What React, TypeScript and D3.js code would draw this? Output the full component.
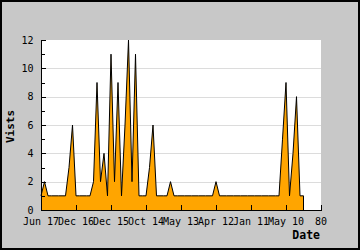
import React from "react";
import * as d3 from "d3";

const visits: number[] = [
  1, 2, 1, 1, 1, 1, 1, 1, 3, 6,
  1, 1, 1, 1, 1, 2, 9, 2, 4, 1,
  11, 2, 9, 1, 6, 12, 2, 11, 1, 1,
  1, 3, 6, 1, 1, 1, 1, 2, 1, 1,
  1, 1, 1, 1, 1, 1, 1, 1, 1, 1,
  2, 1, 1, 1, 1, 1, 1, 1, 1, 1,
  1, 1, 1, 1, 1, 1, 1, 1, 1, 5,
  9, 1, 4, 8, 1, 1,
];
const xTickValues: number[] = [0, 10, 20, 30, 40, 50, 60, 70, 80];
const xTickLabels: string[] = ["Jun 17", "Dec 16", "Dec 15", "Oct 14", "May 13", "Apr 12", "Jan 11", "May 10", "80"];
const yMajorTicks: number[] = [0, 2, 4, 6, 8, 10, 12];
const yMinorTicks: number[] = [1, 3, 5, 7, 9, 11];
const yGrid: number[] = [2, 4, 6, 8, 10];

const W = 360, H = 250;
const PL = 41, PR = 321, PT = 40, PB = 210;
const mono = "'DejaVu Sans Mono', monospace";

export default function App() {
  const x = d3.scaleLinear().domain([0, 80]).range([PL, PR]);
  const y = d3.scaleLinear().domain([0, 12]).range([PB, PT]);
  const pts = visits.map((v, i) => [i, v] as [number, number]);
  const area = d3.area<[number, number]>()
    .x(d => x(d[0]))
    .y0(y(0))
    .y1(d => y(d[1]));
  const line = d3.line<[number, number]>().x(d => x(d[0])).y(d => y(d[1]));
  const last = visits.length - 1;
  const outline = line(pts) + `L${x(last)},${y(0)}`;

  return (
    <svg width={W} height={H} style={{ position: "absolute", left: 0, top: 0 }}>
      <rect x={0} y={0} width={W} height={H} fill="#c8c8c8" />
      <rect x={1} y={1} width={W - 2} height={H - 2} fill="none" stroke="#000" strokeWidth={2} />
      <rect x={PL} y={PT} width={PR - PL} height={PB - PT} fill="#fff" />
      {yGrid.map(v => (
        <line key={"g" + v} x1={PL} x2={PR} y1={Math.round(y(v)) + 0.5} y2={Math.round(y(v)) + 0.5} stroke="#dcdcdc" strokeWidth={1} />
      ))}
      <path d={area(pts) || ""} fill="#ffa500" stroke="none" />
      <path d={outline} fill="none" stroke="#000" strokeWidth={1} />
      {/* axes */}
      <line x1={PL + 0.5} x2={PL + 0.5} y1={PT} y2={PB + 1} stroke="#000" />
      <line x1={PL} x2={PR + 1} y1={PB + 0.5} y2={PB + 0.5} stroke="#000" />
      {xTickValues.map((v, i) => (
        <g key={"xt" + v}>
          <line x1={Math.round(x(v)) + 0.5} x2={Math.round(x(v)) + 0.5} y1={PB - 5} y2={PB} stroke="#000" />
          <text x={x(v)} y={225} textAnchor="middle" fontFamily={mono} fontSize={10} fill="#000">{xTickLabels[i]}</text>
        </g>
      ))}
      {yMajorTicks.map(v => (
        <g key={"yt" + v}>
          <line x1={PL} x2={PL + 5} y1={Math.round(y(v)) + 0.5} y2={Math.round(y(v)) + 0.5} stroke="#000" />
          <text x={33.5} y={y(v) + 3.8} textAnchor="end" fontFamily={mono} fontSize={10} fill="#000">{v}</text>
        </g>
      ))}
      {yMinorTicks.map(v => (
        <line key={"ym" + v} x1={PL} x2={PL + 4} y1={Math.round(y(v)) + 0.5} y2={Math.round(y(v)) + 0.5} stroke="#000" />
      ))}
      <text x={320} y={239.3} textAnchor="end" fontFamily={mono} fontWeight="bold" fontSize={11.5} fill="#000">Date</text>
      <text transform="translate(13.5,126.5) rotate(-90)" textAnchor="middle" fontFamily={mono} fontWeight="bold" fontSize={11} fill="#000">Vists</text>
    </svg>
  );
}
